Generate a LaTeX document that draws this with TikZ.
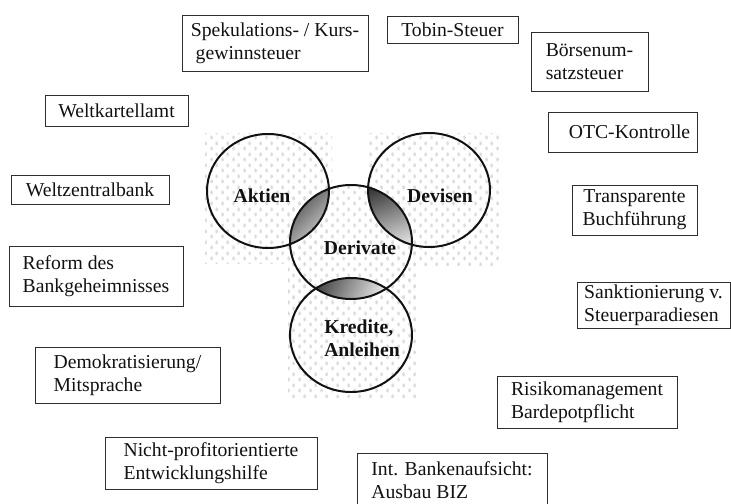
\documentclass[tikz,border=0pt]{standalone}
\usepackage{fontspec}
\setmainfont{Liberation Serif}
\usepackage{xcolor}
\usepackage{tikz}
\usetikzlibrary{patterns.meta}
\definecolor{ink}{HTML}{111111}
\definecolor{frame}{HTML}{2E2E2E}
\definecolor{speck}{HTML}{DCDCDC}
\tikzdeclarepattern{
  name=specks,
  type=uncolored,
  bounding box={(0pt,0pt) and (9.4pt,9.4pt)},
  tile size={(9.4pt,9.4pt)},
  code={
    \fill (2.35pt,2.35pt) ellipse [x radius=1.2pt, y radius=1.9pt];
    \fill (7.05pt,7.05pt) ellipse [x radius=1.2pt, y radius=1.9pt];
  }
}
\tikzset{
  box/.style={draw=frame, line width=0.7pt, inner sep=0pt, align=left, text=ink,
    font=\fontsize{16.8}{19.6}\selectfont},
  ring/.style={draw=ink, line width=1.7pt},
  ovalr/.style={x radius=1.83cm, y radius=1.71cm},
  lab/.style={text=ink, align=left, font=\bfseries\fontsize{16.8}{19.6}\selectfont},
  bg/.style={pattern=specks, pattern color=speck},
  lens/.style={top color=black!80, bottom color=white},
}

\begin{document}
\begin{tikzpicture}[x=0.03cm, y=-0.03cm]
  \useasboundingbox (0,0) rectangle (731,503);
  \coordinate (cA) at (268,191); % Aktien
  \coordinate (cV) at (429,190); % Devisen
  \coordinate (cD) at (351,242); % Derivate
  \coordinate (cK) at (351,335); % Kredite
  % speckled backgrounds
  \fill[bg] (205,133) rectangle (332,263);
  \fill[bg] (367,133) rectangle (500,265);
  \fill[bg] (288,186) rectangle (416,300);
  \fill[bg] (288,278) rectangle (418,397);
  % shaded overlaps
  \begin{scope}
    \clip (cA) ellipse [ovalr];
    \clip (cD) ellipse [ovalr];
    \shade[lens, shading angle=45] (275,185) rectangle (340,260);
  \end{scope}
  \begin{scope}
    \clip (cV) ellipse [ovalr];
    \clip (cD) ellipse [ovalr];
    \shade[lens, shading angle=20] (362,180) rectangle (418,262);
  \end{scope}
  \begin{scope}
    \clip (cK) ellipse [ovalr];
    \clip (cD) ellipse [ovalr];
    \shade[lens, shading angle=65] (305,268) rectangle (400,305);
  \end{scope}
  \draw[ring] (cA) ellipse [ovalr];
  \draw[ring] (cV) ellipse [ovalr];
  \draw[ring] (cD) ellipse [ovalr];
  \draw[ring] (cK) ellipse [ovalr];
  \node[lab] (aktien) at (262,196) {Aktien};
  \node[lab] (devisen) at (440,196) {Devisen};
  \node[lab] (derivate) at (360,248) {Derivate};
  \node[lab] (kredite) at (362,338) {Kredite,\\Anleihen};
  % measures round the circles
  \node[box, minimum width=5.58cm, minimum height=1.68cm] (spek) at (275,43) {Spekulations- / Kurs-\\\ gewinnsteuer};
  \node[box, minimum width=3.93cm, minimum height=0.81cm] (tobin) at (452.5,29.5) {Tobin-Steuer};
  \node[box, minimum width=3.51cm, minimum height=1.77cm] (boerse) at (589.5,61.5) {Börsenum-\\satzsteuer};
  \node[box, minimum width=4.29cm, minimum height=0.93cm] (kartell) at (116.5,110.5) {Weltkartellamt};
  \node[box, minimum width=4.47cm, minimum height=1.2cm] (otc) at (622.5,132) {\hspace{12pt}OTC-Kontrolle};
  \node[box, minimum width=4.74cm, minimum height=0.87cm] (zentral) at (90,189.5) {Weltzentralbank};
  \node[box, minimum width=3.75cm, minimum height=1.5cm, align=center] (transp) at (634.5,210) {Transparente\\Buchführung};
  \node[box, minimum width=5.22cm, minimum height=1.8cm] (reform) at (96,276) {Reform des\\Bankgeheimnisses};
  \node[box, minimum width=4.59cm, minimum height=1.38cm] (sankt) at (653.5,305) {Sanktionierung v.\\Steuerparadiesen};
  \node[box, minimum width=5.55cm, minimum height=1.68cm] (demo) at (127.5,375) {Demokratisierung/\\Mitsprache};
  \node[box, minimum width=5.4cm, minimum height=1.56cm] (risiko) at (587,402) {Risikomanagement\\Bardepotpflicht};
  \node[box, minimum width=6.36cm, minimum height=1.56cm] (nicht) at (211,463) {Nicht-profitorientierte\\Entwicklungshilfe};
  \node[box, minimum width=5.7cm, minimum height=1.65cm] (aufsicht) at (452,480.5) {Int. Bankenaufsicht:\\Ausbau BIZ};
\end{tikzpicture}
\end{document}
